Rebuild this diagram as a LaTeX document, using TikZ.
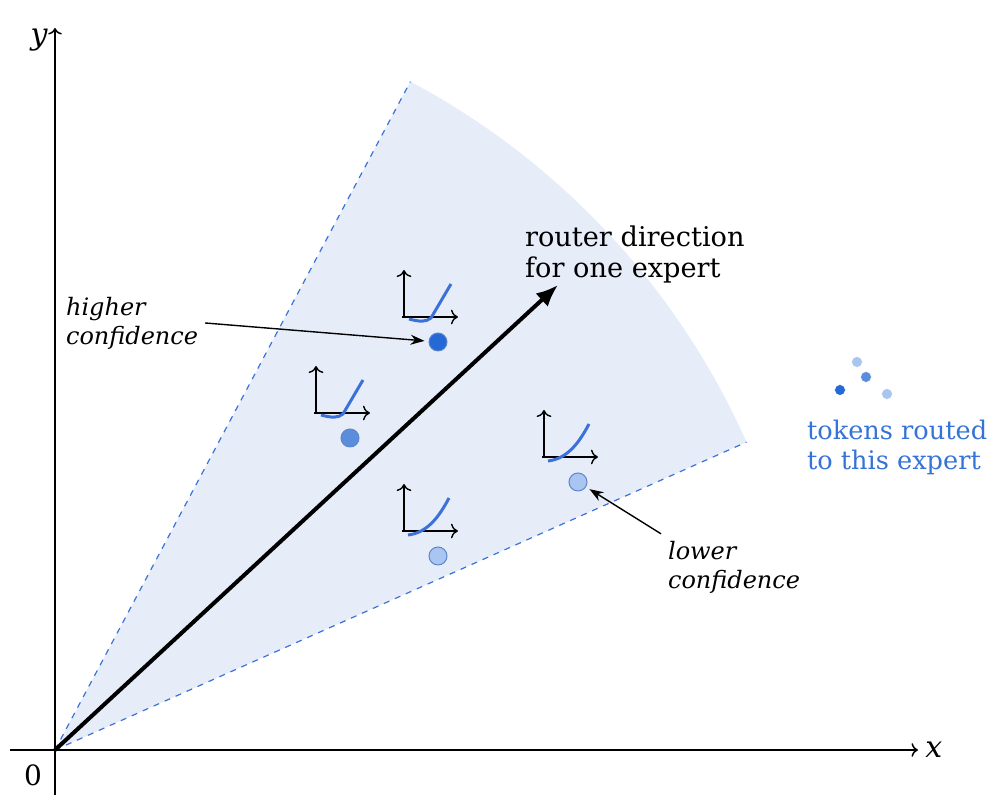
\documentclass[tikz,border=0pt]{standalone}
\usepackage{fontspec}
\setmainfont{DejaVu Serif}
\usepackage{xcolor}
\usepackage{tikz}
\usetikzlibrary{arrows.meta}

\definecolor{conefill}{HTML}{E7EDF8}
\definecolor{coneline}{HTML}{3B72D9}
\definecolor{tokdark}{HTML}{2469D6}
\definecolor{tokmid}{HTML}{5A8EDC}
\definecolor{toklight}{HTML}{A9C5F1}
\definecolor{tokedge}{HTML}{5E86C8}
\definecolor{tokblue}{HTML}{3573D6}

\tikzset{
  every node/.append style={font=\fontsize{12}{14.5}\selectfont},
  token/.style={circle, draw=tokedge, line width=0.5pt, inner sep=0pt, minimum size=9pt},
  smalltoken/.style={circle, draw=white, line width=0.3pt, inner sep=0pt, minimum size=5.5pt},
  miniaxis/.style={-{To[length=3.5pt]}, line width=0.7pt},
  minicurve/.style={coneline, line width=1.5pt},
  note/.style={-{Stealth[length=7pt,width=5pt]}, line width=0.7pt, shorten >=2pt},
  axislabel/.style={font=\fontsize{15}{18}\selectfont\itshape}
}

\begin{document}
\begin{tikzpicture}[x=0.5pt, y=0.5pt]
        \useasboundingbox (-55,-57) rectangle (942,750);

        % Draw cone of the expert
        \fill[conefill] (0,0) -- (24:757) arc[start angle=24, end angle=62, radius=757] -- cycle;
        \draw[coneline, dashed, line width=0.6pt] (0,0) -- (24:757);
        \draw[coneline, dashed, line width=0.6pt] (0,0) -- (62:757);

        % Draw axes
        \draw[->, line width=0.75pt] (-45,0) -- (863,0) node[right, axislabel] {x};
        \draw[->, line width=0.75pt] (0,-45) -- (0,722) node[left, axislabel, yshift=-6pt] {y};
        \node[font=\fontsize{14}{16}\selectfont] (zero) at (-22,-25) {0};

        % Router direction
        \coordinate (o) at (0,0);
        \coordinate (tip) at (503,465);
        \draw[-{Latex[length=11pt,width=9pt]}, line width=2pt] (o) -- (tip);
        \node[anchor=west, align=left, font=\fontsize{13.6}{15.5}\selectfont] (router) at (463,495) {router direction\\for one expert};

        % Tokens
        \node[token, fill=tokdark] (d1) at (383,408) {};
        \node[token, fill=tokmid] (d2) at (295,312) {};
        \node[token, fill=toklight] (d3) at (523,268) {};
        \node[token, fill=toklight] (d4) at (383,194) {};

        % Small activation plots above the tokens
        \foreach \d in {d1,d2} {
          \begin{scope}[shift={(\d)}, shift={(-34,25)}]
            \draw[miniaxis] (-2,0) -- (54,0);
            \draw[miniaxis] (0,0) -- (0,47);
            \draw[minicurve] (5,-2) .. controls (16,-5) and (22,-5) .. (27,-1) -- (47,33);
          \end{scope}
        }
        \foreach \d in {d3,d4} {
          \begin{scope}[shift={(\d)}, shift={(-34,25)}]
            \draw[miniaxis] (-2,0) -- (54,0);
            \draw[miniaxis] (0,0) -- (0,47);
            \draw[minicurve] (4,-4) .. controls (22,-2) and (34,12) .. (45,33);
          \end{scope}
        }

        % Labels
        \node[anchor=west, align=left, font=\fontsize{12}{14.5}\selectfont\itshape] (hc) at (4,427) {higher\\confidence};
        \node[anchor=west, align=left, font=\fontsize{12}{14.5}\selectfont\itshape] (lc) at (606,183) {lower\\confidence};
        \draw[note] (hc.east) -- (d1);
        \draw[note] (lc.north west) -- (d3);

        % Legend
        \node[smalltoken, fill=toklight] (l1) at (802,388) {};
        \node[smalltoken, fill=tokmid] (l2) at (811,373) {};
        \node[smalltoken, fill=tokdark] (l3) at (785,360) {};
        \node[smalltoken, fill=toklight] (l4) at (832,356) {};
        \node[anchor=west, align=left, text=tokblue, font=\fontsize{12.8}{15}\selectfont] (legend) at (745,303) {tokens routed\\to this expert};
    \end{tikzpicture}
\end{document}
